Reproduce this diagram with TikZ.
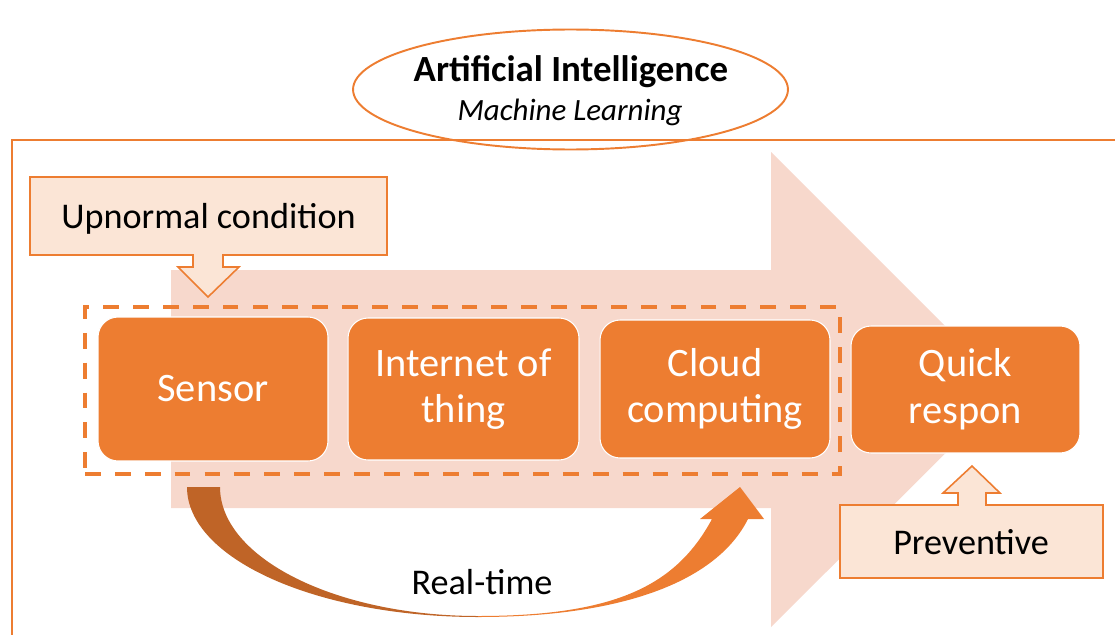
\documentclass[tikz,border=0pt]{standalone}
\usepackage{fontspec}
\setmainfont{Carlito}
\usetikzlibrary{shapes.geometric}
\definecolor{acc}{HTML}{ED7D31}
\definecolor{accdark}{HTML}{BF6427}
\definecolor{bigpink}{HTML}{F7D8CC}
\definecolor{callfill}{HTML}{FBE5D6}
\begin{document}
\begin{tikzpicture}[x=0.02cm,y=-0.02cm,
  stagebox/.style={rectangle, rounded corners=0.4cm, fill=acc, draw=white, line width=0.6pt,
    text=white, font=\fontsize{23}{26.6}\selectfont, align=center, inner sep=0pt},
  callout/.style={fill=callfill, draw=acc, line width=0.9pt, line join=miter},
  lbl/.style={font=\fontsize{20.6}{24}\selectfont, text=black, inner sep=0pt},
  frameline/.style={draw=acc, line width=0.9pt}]
\useasboundingbox (0,0) rectangle (1115,635);
% outer frame
\draw[frameline] (12,635) -- (12,140) -- (1115,140);
% big background arrow
\fill[bigpink] (171,270) -- (771,270) -- (771,152) -- (1009,390) -- (771,627) -- (771,508) -- (171,508) -- cycle;
% ellipse
\node[ellipse, draw=acc, line width=1.1pt, minimum width=8.7cm, minimum height=2.4cm, inner sep=0pt] (ai) at (570.5,89.5) {};
\node[font=\fontsize{21}{25}\selectfont\bfseries, anchor=base, inner sep=0pt] (ait) at (571,82) {Artificial Intelligence};
\node[font=\fontsize{17.6}{21}\selectfont\itshape, anchor=base, inner sep=0pt] (ml) at (570,120) {Machine Learning};
% upnormal callout
\draw[callout] (30,177) -- (387,177) -- (387,255) -- (223,255) -- (223,267) -- (239,267) -- (208,297) -- (178,267) -- (193,267) -- (193,255) -- (30,255) -- cycle;
\node[lbl, anchor=base] (up) at (208.5,228) {Upnormal condition};
% preventive callout
\draw[callout] (840,505) -- (958,505) -- (958,493) -- (943,493) -- (972,466) -- (1000,493) -- (986,493) -- (986,505) -- (1103,505) -- (1103,578) -- (840,578) -- cycle;
\node[lbl, anchor=base] (prev) at (971,554) {Preventive};
% dashed group
\node[draw=acc, line width=2.2pt, dash pattern=on 9pt off 8pt, minimum width=15.1cm, minimum height=3.34cm, inner sep=0pt] (grp) at (462.5,390.5) {};
% stage boxes
\node[stagebox, minimum width=4.6cm, minimum height=2.88cm] (sensor) at (213,389) {Sensor};
\node[stagebox, minimum width=4.62cm, minimum height=2.84cm] (iot) at (463.5,389) {Internet of\\thing};
\node[stagebox, minimum width=4.6cm, minimum height=2.76cm] (cloud) at (715,389) {Cloud\\computing};
\node[stagebox, minimum width=4.58cm, minimum height=2.54cm] (quick) at (965.5,389.5) {Quick\\respon};
% curved real-time arrow
\fill[accdark] (187,487) .. controls (187,559) and (317,617) .. (478,617)
  -- (478,616) .. controls (336,616) and (220,558) .. (220,487) -- cycle;
\fill[acc] (478,617) .. controls (628,617) and (718,579) .. (748,519)
  -- (764,519) -- (740,487) -- (700,519) -- (712,519)
  .. controls (677,584) and (618,616) .. (478,616) -- cycle;
\node[lbl, anchor=base] (rt) at (482,594) {Real-time};
\end{tikzpicture}
\end{document}
